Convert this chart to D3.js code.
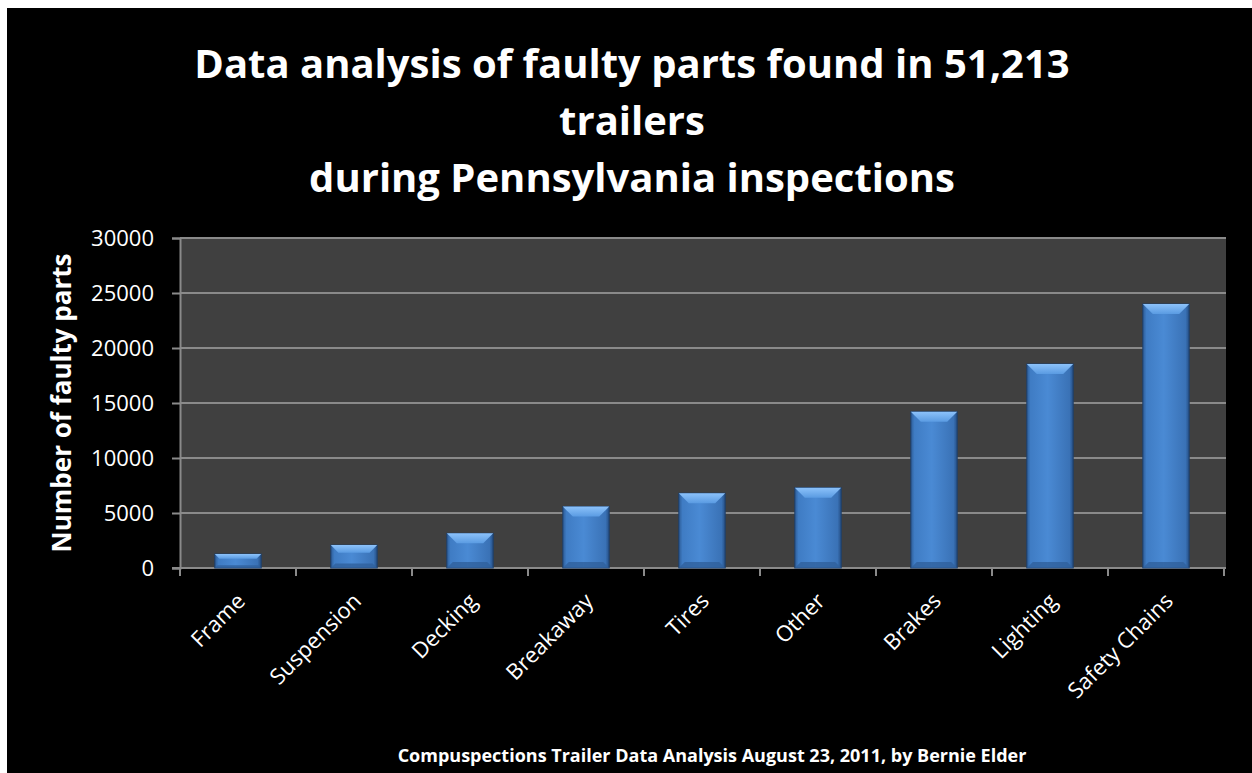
<!DOCTYPE html>
<html>
<head>
<meta charset="utf-8">
<script src="https://cdn.jsdelivr.net/npm/d3@7"></script>
<style>
  body { margin: 0; background: #fff; }
  text { font-family: "Open Sans", "DejaVu Sans", sans-serif; fill: #fff; }
</style>
</head>
<body>
<div id="chart"></div>
<script>
// data
var categories = ["Frame", "Suspension", "Decking", "Breakaway", "Tires", "Other", "Brakes", "Lighting", "Safety Chains"];
var counts = [1270, 2080, 3150, 5580, 6800, 7300, 14200, 18550, 24000];
var yTicks = [0, 5000, 10000, 15000, 20000, 25000, 30000];
var titleLines = ["Data analysis of faulty parts found in 51,213", "trailers", "during Pennsylvania inspections"];
var yTitle = "Number of faulty parts";
var footer = "Compuspections Trailer Data Analysis August 23, 2011, by Bernie Elder";

var data = categories.map(function(c, i) { return {part: c, count: counts[i]}; });

var W = 1252, H = 773;
var plot = {left: 180, right: 1226, top: 238, bottom: 568};

var svg = d3.select("#chart").append("svg")
  .attr("width", W)
  .attr("height", H);

// black slide background
svg.append("rect")
  .attr("x", 7).attr("y", 8)
  .attr("width", W - 7).attr("height", H - 8)
  .attr("fill", "#000");

var defs = svg.append("defs");
var body = defs.append("linearGradient").attr("id", "barBody")
  .attr("x1", "0%").attr("x2", "100%").attr("y1", "0%").attr("y2", "0%");
body.append("stop").attr("offset", "0%").attr("stop-color", "#2d5d98");
body.append("stop").attr("offset", "8%").attr("stop-color", "#3f7cc4");
body.append("stop").attr("offset", "45%").attr("stop-color", "#4a8ad4");
body.append("stop").attr("offset", "92%").attr("stop-color", "#3a72b6");
body.append("stop").attr("offset", "100%").attr("stop-color", "#254f85");

var topBevel = defs.append("linearGradient").attr("id", "barTop")
  .attr("x1", "0%").attr("x2", "0%").attr("y1", "0%").attr("y2", "100%");
topBevel.append("stop").attr("offset", "0%").attr("stop-color", "#8cc2fa");
topBevel.append("stop").attr("offset", "100%").attr("stop-color", "#5a9be2");

var x = d3.scaleBand()
  .domain(categories)
  .range([plot.left, 1224])
  .paddingInner(0.6)
  .paddingOuter(0.3);

var xTicks = d3.scaleBand().domain(categories).range([plot.left, 1224]);

var y = d3.scaleLinear()
  .domain([0, 30000])
  .range([plot.bottom, plot.top]);

// plot area
svg.append("rect")
  .attr("x", plot.left).attr("y", plot.top)
  .attr("width", plot.right - plot.left)
  .attr("height", plot.bottom - plot.top)
  .attr("fill", "#404040");

// gridlines
svg.append("g")
  .selectAll("line")
  .data(yTicks.slice(1))
  .enter()
  .append("line")
  .attr("x1", plot.left).attr("x2", plot.right)
  .attr("y1", function(d) { return y(d); })
  .attr("y2", function(d) { return y(d); })
  .attr("stroke", "#8a8a8a")
  .attr("stroke-width", 2);

// y axis
var yAxis = d3.axisLeft(y).tickValues(yTicks).tickSize(8).tickPadding(18).tickFormat(d3.format("d"));
var yg = svg.append("g")
  .attr("transform", "translate(" + plot.left + ",0)")
  .call(yAxis);
yg.select(".domain").attr("stroke", "#8a8a8a").attr("stroke-width", 2);
yg.selectAll(".tick line").attr("stroke", "#8a8a8a").attr("stroke-width", 2);
yg.selectAll(".tick text")
  .attr("fill", "#fff")
  .style("font-size", "22px")
  .style("font-family", "'Open Sans', sans-serif");

// x axis with ticks on category boundaries
var xg = svg.append("g")
  .attr("transform", "translate(0," + plot.bottom + ")");
xg.append("line")
  .attr("x1", plot.left - 8).attr("x2", plot.right)
  .attr("y1", 0).attr("y2", 0)
  .attr("stroke", "#8a8a8a").attr("stroke-width", 2);
xg.selectAll(".xtick")
  .data(categories.concat(["end"]))
  .enter()
  .append("line")
  .attr("class", "xtick")
  .attr("x1", function(d, i) { return i < categories.length ? xTicks(d) : xTicks.range()[1]; })
  .attr("x2", function(d, i) { return i < categories.length ? xTicks(d) : xTicks.range()[1]; })
  .attr("y1", 0).attr("y2", 8)
  .attr("stroke", "#8a8a8a").attr("stroke-width", 2);

xg.selectAll(".xlabel")
  .data(categories)
  .enter()
  .append("text")
  .attr("class", "xlabel")
  .attr("transform", function(d) {
    return "translate(" + (x(d) + x.bandwidth() / 2 + 3) + ",29) rotate(-45)";
  })
  .attr("text-anchor", "end")
  .attr("dy", "0.35em")
  .style("font-size", "22px")
  .text(function(d) { return d; });

// bars with a bevel look
var bars = svg.append("g").selectAll("g")
  .data(data)
  .enter()
  .append("g");

bars.append("rect")
  .attr("x", function(d) { return x(d.part); })
  .attr("y", function(d) { return y(d.count); })
  .attr("width", x.bandwidth())
  .attr("height", function(d) { return plot.bottom - y(d.count); })
  .attr("fill", "url(#barBody)")
  .attr("stroke", "#1f3f68")
  .attr("stroke-width", 1);

function bevel(d) { return Math.min(10, (plot.bottom - y(d.count)) / 3); }

// top bevel
bars.append("polygon")
  .attr("points", function(d) {
    var x0 = x(d.part), x1 = x0 + x.bandwidth(), t = y(d.count), b = bevel(d);
    return [[x0, t], [x1, t], [x1 - b, t + b], [x0 + b, t + b]].join(" ");
  })
  .attr("fill", "url(#barTop)");

// bottom bevel
bars.append("polygon")
  .attr("points", function(d) {
    var x0 = x(d.part), x1 = x0 + x.bandwidth(), bt = plot.bottom, b = bevel(d) * 0.6;
    return [[x0, bt], [x1, bt], [x1 - b, bt - b], [x0 + b, bt - b]].join(" ");
  })
  .attr("fill", "#2f609c")
  .attr("opacity", 0.8);

// title
svg.append("g").selectAll("text")
  .data(titleLines)
  .enter()
  .append("text")
  .attr("x", 632)
  .attr("y", function(d, i) { return 78 + i * 57; })
  .attr("text-anchor", "middle")
  .style("font-size", "40px")
  .style("font-weight", "bold")
  .text(function(d) { return d; });

// y title
svg.append("text")
  .attr("transform", "translate(71,403) rotate(-90)")
  .attr("text-anchor", "middle")
  .style("font-size", "26px")
  .style("font-weight", "bold")
  .text(yTitle);

// footer
svg.append("text")
  .attr("x", 712)
  .attr("y", 762)
  .attr("text-anchor", "middle")
  .style("font-size", "18px")
  .style("font-weight", "bold")
  .text(footer);
</script>
</body>
</html>
